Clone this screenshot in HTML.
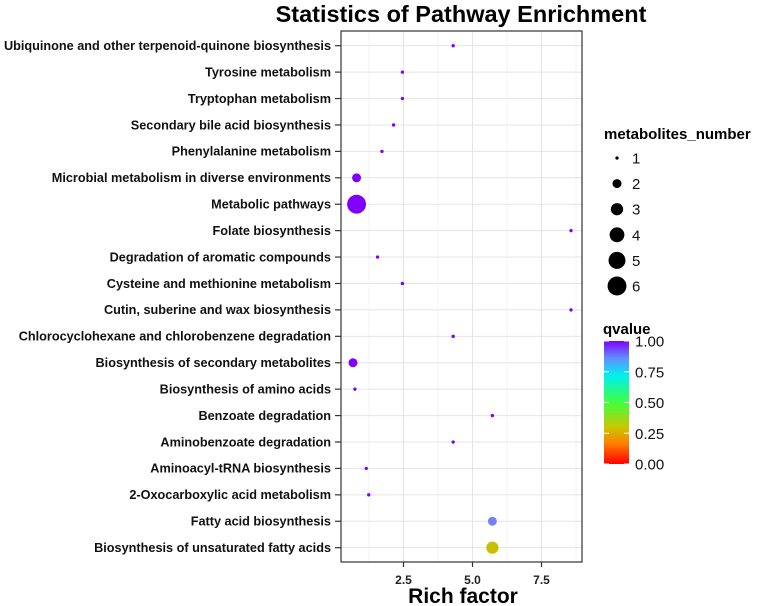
<!DOCTYPE html>
<html><head><meta charset="utf-8"><style>
html,body{margin:0;padding:0;background:#fff}
svg{display:block;font-family:"Liberation Sans",Arial,sans-serif}
</style></head><body>
<svg id="chart" width="778" height="606" viewBox="0 0 778 606">
<text x="461" y="22" text-anchor="middle" font-size="23.5" font-weight="bold">Statistics of Pathway Enrichment</text>
<g id="grid"></g>
<g id="yaxis"></g>
<g id="xaxis"></g>
<g id="points"></g>
<rect x="341" y="31" width="241" height="531" fill="none" stroke="#333" stroke-width="1.2"/>
<text x="463" y="603" text-anchor="middle" font-size="21" font-weight="bold">Rich factor</text>
<g id="legend">
<text x="604" y="139" font-size="15" font-weight="bold">metabolites_number</text>
<g id="sizeLegend"></g>
<text x="603" y="334" font-size="15" font-weight="bold">qvalue</text>
<defs><linearGradient id="rb" x1="0" y1="1" x2="0" y2="0">
<stop offset="0" stop-color="#ff0000"/><stop offset="0.17" stop-color="#ff8000"/><stop offset="0.3" stop-color="#c8c800"/><stop offset="0.5" stop-color="#40ff40"/><stop offset="0.72" stop-color="#00f0f0"/><stop offset="0.86" stop-color="#6090ff"/><stop offset="1" stop-color="#8000ff"/>
</linearGradient></defs>
<rect x="604" y="341" width="25" height="123" fill="url(#rb)"/>
<g id="colorTicks"></g>
</g>
</svg>
<script>
const pathways=["Ubiquinone and other terpenoid-quinone biosynthesis","Tyrosine metabolism","Tryptophan metabolism","Secondary bile acid biosynthesis","Phenylalanine metabolism","Microbial metabolism in diverse environments","Metabolic pathways","Folate biosynthesis","Degradation of aromatic compounds","Cysteine and methionine metabolism","Cutin, suberine and wax biosynthesis","Chlorocyclohexane and chlorobenzene degradation","Biosynthesis of secondary metabolites","Biosynthesis of amino acids","Benzoate degradation","Aminobenzoate degradation","Aminoacyl-tRNA biosynthesis","2-Oxocarboxylic acid metabolism","Fatty acid biosynthesis","Biosynthesis of unsaturated fatty acids"];
const richFactor=[4.30,2.46,2.46,2.14,1.72,0.80,0.80,8.57,1.56,2.46,8.57,4.30,0.67,0.74,5.72,4.30,1.15,1.24,5.72,5.72];
const metaboliteCount=[1,1,1,1,1,2,6,1,1,1,1,1,2,1,1,1,1,1,2,3];
const qvalue=[1,1,1,1,1,1,1,1,1,1,1,1,1,1,1,1,1,1,0.88,0.3];
const xTicks=[2.5,5.0,7.5];
const xTickLabels=["2.5","5.0","7.5"];
const sizeLegendValues=[1,2,3,4,5,6];
const colorTickValues=[1,0.75,0.5,0.25,0];
const colorTickLabels=["1.00","0.75","0.50","0.25","0.00"];

const NS="http://www.w3.org/2000/svg";
const x=v=>334.5+v*27.6;
const y=i=>45.7+i*26.42;
const r=n=>Math.sqrt(2.8+17.3*(n-1));
const qy=q=>464-q*123;
const stops=[[0,[255,0,0]],[0.17,[255,128,0]],[0.3,[200,190,0]],[0.5,[64,255,64]],[0.72,[0,240,240]],[0.86,[110,150,255]],[1,[128,0,255]]];
function qcol(q){for(let k=1;k<stops.length;k++){if(q<=stops[k][0]){const a=stops[k-1],b=stops[k],t=(q-a[0])/(b[0]-a[0]);return "rgb("+a[1].map((c,j)=>Math.round(c+(b[1][j]-c)*t)).join(",")+")";}}return "rgb(128,0,255)";}
function mk(tag,attrs,parent){const e=document.createElementNS(NS,tag);for(const k in attrs)e.setAttribute(k,attrs[k]);parent.appendChild(e);return e;}

const grid=document.getElementById("grid"),yaxis=document.getElementById("yaxis"),xaxis=document.getElementById("xaxis"),pts=document.getElementById("points");
const minor=[1.25,3.75,6.25,8.75];
minor.forEach(v=>{const l=mk("line",{x1:x(v),x2:x(v),y1:31,y2:562,stroke:"#f0f0f0","stroke-width":0.8},grid);

});
xTicks.forEach((v,i)=>{const l=mk("line",{x1:x(v),x2:x(v),y1:31,y2:562,stroke:"#e4e4e4","stroke-width":1},grid);


const t=mk("line",{x1:x(v),x2:x(v),y1:562,y2:567,stroke:"#333","stroke-width":1.2},xaxis);


const tx=mk("text",{x:x(v),y:584,"text-anchor":"middle","font-size":12,"font-weight":"bold",fill:"#222"},xaxis);
tx.textContent=xTickLabels[i];

});
pathways.forEach((p,i)=>{const l=mk("line",{x1:341,x2:582,y1:y(i),y2:y(i),stroke:"#e4e4e4","stroke-width":1},grid);


const t=mk("line",{x1:335,x2:341,y1:y(i),y2:y(i),stroke:"#333","stroke-width":1.2},yaxis);


const tx=mk("text",{x:331,y:y(i)+4.3,"text-anchor":"end","font-size":12.7,"font-weight":"bold",fill:"#111"},yaxis);
tx.textContent=p;


const c=mk("circle",{cx:x(richFactor[i]),cy:y(i),r:r(metaboliteCount[i]),fill:qcol(qvalue[i])},pts);

});
const sl=document.getElementById("sizeLegend");
sizeLegendValues.forEach((n,i)=>{const cy=158+i*25.6;
const c=mk("circle",{cx:617,cy:cy,r:r(n),fill:"#000"},sl);


const t=mk("text",{x:632,y:cy+5.5,"font-size":15,fill:"#111"},sl);
t.textContent=String(n);

});
const ct=document.getElementById("colorTicks");
colorTickValues.forEach((q,i)=>{const yy=qy(q);
const l=mk("line",{x1:604,x2:609,y1:yy,y2:yy,stroke:"#fff","stroke-width":1},ct);


const l2=mk("line",{x1:624,x2:629,y1:yy,y2:yy,stroke:"#fff","stroke-width":1},ct);


const t=mk("text",{x:635,y:yy+5.5,"font-size":15,fill:"#111"},ct);
t.textContent=colorTickLabels[i];

});
</script>
</body></html>
